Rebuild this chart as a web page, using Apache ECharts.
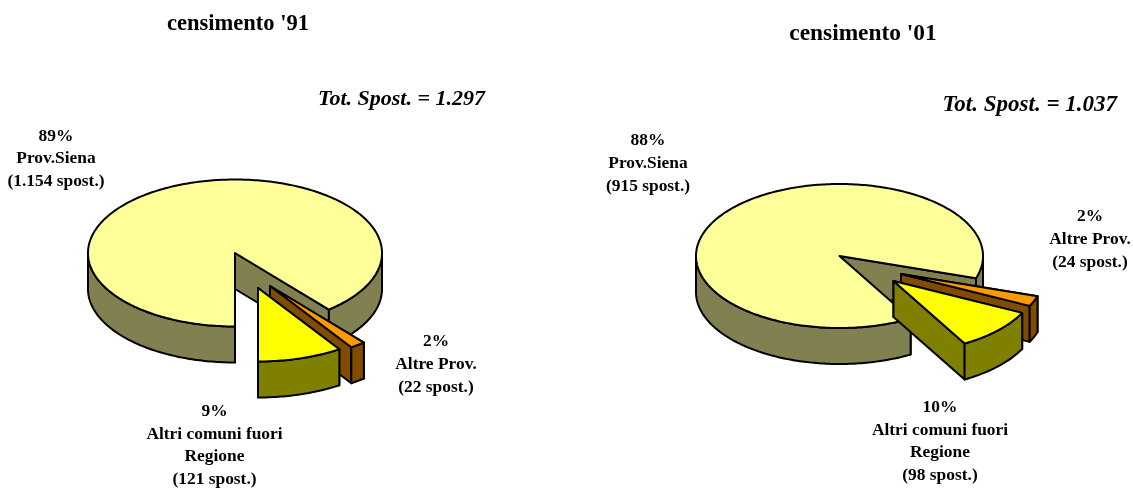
<!DOCTYPE html>
<html><head><meta charset="utf-8">
<style>html,body{margin:0;padding:0;background:#fff}#c{width:1133px;height:488px}</style>
<script src="https://cdn.jsdelivr.net/npm/echarts@6/dist/echarts.min.js"></script>
</head><body><div id="c"></div>
<script>
var categories = ['Prov.Siena', 'Altre Prov.', 'Altri comuni fuori\nRegione'];
var values91 = [1154, 22, 121];
var values01 = [915, 24, 98];
var pct91 = ['89%', '2%', '9%'];
var pct01 = ['88%', '2%', '10%'];
var spost91 = ['1.154', '22', '121'];
var spost01 = ['915', '24', '98'];
var titles = ["censimento '91", "censimento '01"];
var totals = ['Tot. Spost. = 1.297', 'Tot. Spost. = 1.037'];

var topColors = ['#FFFF99', '#FF9900', '#FFFF00'];
var sideColors = ['#808050', '#804C00', '#808000'];
var FONT = '"Liberation Serif","Times New Roman",serif';

var layout91 = {cx: 235, cy: 253, rx: 147, ry: 73.5, depth: 36, endAngle: 90,
  offsets: [[0, 0], [35, 33], [23, 35]]};
var layout01 = {cx: 839.5, cy: 256, rx: 143.5, ry: 72, depth: 36, endAngle: 60.3,
  offsets: [[0, 0], [61.5, 18], [54, 25]]};

function pieSeries(values, L) {
  var total = values.reduce(function (a, b) { return a + b; }, 0);
  // slices run clockwise on screen starting at endAngle
  var starts = [], acc = L.endAngle;
  values.forEach(function (v) { starts.push(acc); acc += v / total * 360; });
  return {
    type: 'custom', coordinateSystem: 'none', silent: true, clip: false, animation: false,
    data: values.map(function (v) { return [v]; }),
    renderItem: function (params, api) {
      var i = params.dataIndex, a0 = starts[i], a1 = a0 + api.value(0) / total * 360;
      var ox = L.cx + L.offsets[i][0], oy = L.cy + L.offsets[i][1];
      function pt(a) { var r = a * Math.PI / 180; return [ox + L.rx * Math.cos(r), oy + L.ry * Math.sin(r)]; }
      function arc(s, e) { var o = [], n = Math.max(2, Math.ceil((e - s) / 1)); for (var k = 0; k <= n; k++) o.push(pt(s + (e - s) * k / n)); return o; }
      function down(p) { return [p[0], p[1] + L.depth]; }
      var style = function (c) { return {fill: c, stroke: '#000', lineWidth: 2, lineJoin: 'round'}; };
      var kids = [];
      // cut faces
      [a0, a1].forEach(function (a) {
        var p = pt(a), apex = [ox, oy];
        kids.push({type: 'polygon', shape: {points: [apex, p, down(p), down(apex)]}, style: style(sideColors[i])});
      });
      // outer wall: only the parts that face the viewer (0..180 modulo 360)
      for (var t = 0; t <= 1; t++) {
        var s = Math.max(a0, t * 360), e = Math.min(a1, t * 360 + 180);
        if (e > s) {
          var top = arc(s, e);
          kids.push({type: 'polygon', shape: {points: top.concat(top.slice().reverse().map(down))}, style: style(sideColors[i])});
        }
      }
      // top face
      kids.push({type: 'polygon', shape: {points: [[ox, oy]].concat(arc(a0, a1))}, style: style(topColors[i])});
      return {type: 'group', children: kids};
    }
  };
}

function label(x, y, text, size, extra) {
  return {type: 'text', x: x, y: y, silent: true, style: Object.assign({
    text: text, fill: '#000', font: 'bold ' + size + 'px ' + FONT,
    align: 'center', verticalAlign: 'middle', lineHeight: 22.7
  }, extra || {})};
}
function sliceText(pcts, sposts, i) {
  return pcts[i] + '\n' + categories[i] + '\n(' + sposts[i] + ' spost.)';
}

var chart = echarts.init(document.getElementById('c'), null, {renderer: 'canvas'});
chart.setOption({
  backgroundColor: '#fff',
  animation: false,
  series: [pieSeries(values91, layout91), pieSeries(values01, layout01)],
  graphic: [
    label(238, 24, titles[0], 22.5),
    label(863, 34, titles[1], 23.4),
    label(485, 99, totals[0], 22, {align: 'right', font: 'italic bold 22px ' + FONT}),
    label(1117, 105, totals[1], 23, {align: 'right', font: 'italic bold 23px ' + FONT}),
    label(56, 159, sliceText(pct91, spost91, 0), 17.4),
    label(436, 364.5, sliceText(pct91, spost91, 1), 17.4),
    label(214.5, 445.5, sliceText(pct91, spost91, 2), 17.4),
    label(648, 163.5, sliceText(pct01, spost01, 0), 17.4),
    label(1090, 239.5, sliceText(pct01, spost01, 1), 17.4),
    label(940, 441.5, sliceText(pct01, spost01, 2), 17.4)
  ]
});
</script></body></html>
